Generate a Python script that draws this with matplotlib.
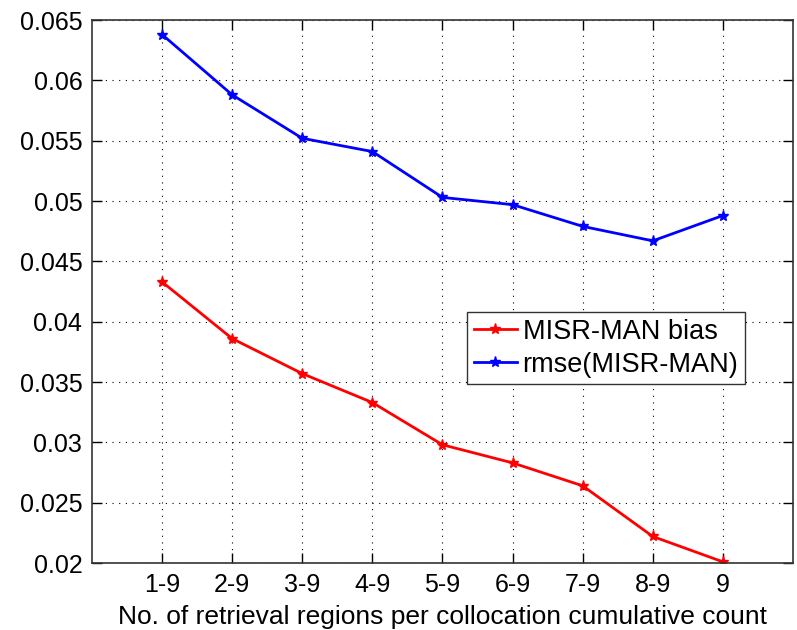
import matplotlib
matplotlib.use('Agg')
import matplotlib.pyplot as plt

regions = ['1-9', '2-9', '3-9', '4-9', '5-9', '6-9', '7-9', '8-9', '9']
bias = [0.0433, 0.0386, 0.0357, 0.0333, 0.0298, 0.0283, 0.0264, 0.0222, 0.0201]
rmse = [0.0638, 0.0588, 0.0552, 0.0541, 0.0503, 0.0497, 0.0479, 0.0467, 0.0488]
yticks = [0.02, 0.025, 0.03, 0.035, 0.04, 0.045, 0.05, 0.055, 0.06, 0.065]
ytick_labels = ['0.02', '0.025', '0.03', '0.035', '0.04', '0.045', '0.05', '0.055', '0.06', '0.065']

plt.rcParams['font.family'] = ['Liberation Sans', 'DejaVu Sans']

fig = plt.figure(figsize=(7.97, 6.30), dpi=100)
ax = fig.add_axes([0.1154, 0.1063, 0.8796, 0.8619])

x = list(range(1, len(regions) + 1))
ax.plot(x, bias, color='red', marker='*', markersize=8, linewidth=2.0, label='MISR-MAN bias')
ax.plot(x, rmse, color='blue', marker='*', markersize=8, linewidth=2.0, label='rmse(MISR-MAN)')

ax.set_xlim(0, 10)
ax.set_ylim(0.02, 0.065)
ax.set_xticks(x)
ax.set_xticklabels(regions)
ax.set_yticks(yticks)
ax.set_yticklabels(ytick_labels)
ax.tick_params(direction='in', length=7, width=1, top=True, right=True, labelsize=18, pad=7)
ax.grid(True, color='black', linestyle=(0, (1, 5)), linewidth=0.8)
for sp in ax.spines.values():
    sp.set_linewidth(1.2)
    sp.set_color('#333333')

ax.set_xlabel('No. of retrieval regions per collocation cumulative count', fontsize=19, labelpad=6)

leg = ax.legend(loc='upper left', bbox_to_anchor=(0.535, 0.462), fontsize=19.5,
                fancybox=False, framealpha=1, edgecolor='#333333',
                handlelength=1.6, handletextpad=0.2, borderpad=0.25, labelspacing=0.25,
                borderaxespad=0)
leg.get_frame().set_linewidth(1.0)

fig.savefig('out.png', dpi=100)
